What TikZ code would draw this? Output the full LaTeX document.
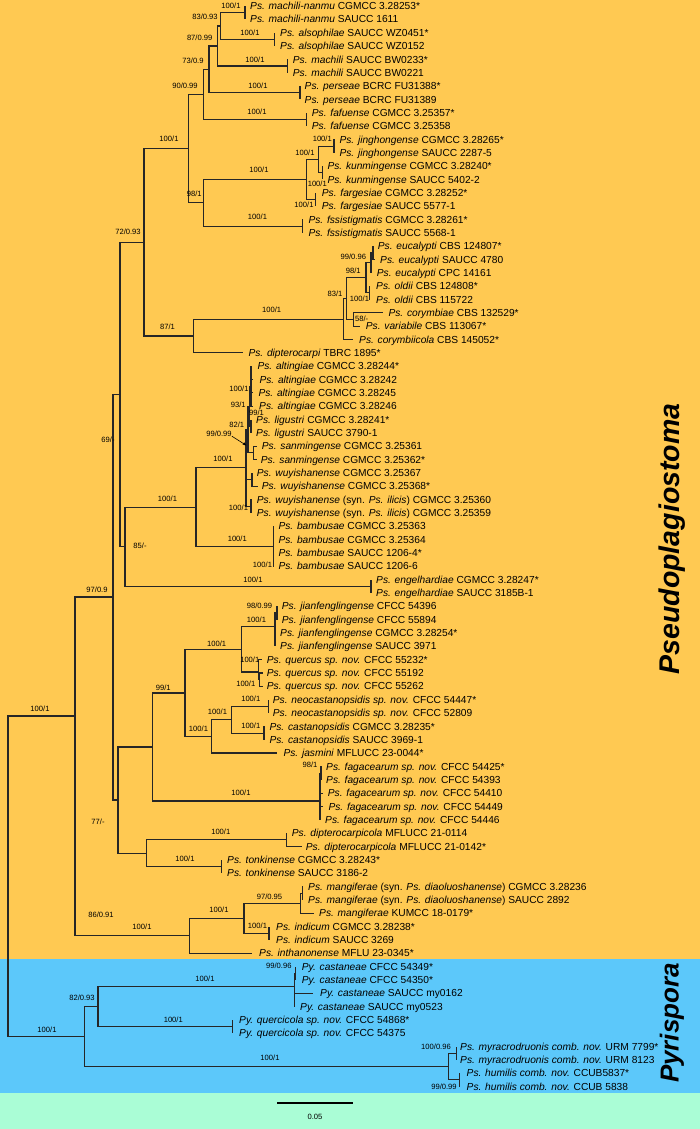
\documentclass[tikz,border=0pt]{standalone}
\usepackage{fontspec}
\setmainfont{Liberation Sans}
\usetikzlibrary{arrows.meta}
\definecolor{orangebg}{RGB}{255,201,82}
\definecolor{bluebg}{RGB}{92,200,250}
\definecolor{greenbg}{RGB}{170,253,214}
\newcommand\Tp[5]{\coordinate (#1) at (#2,#3); \node[tiplab] (#1l) at (#4,#3) {#5};}
\newcommand\Nd[3]{\coordinate (#1) at (#2,#3);}
\newcommand\Ed[2]{\draw[br] (#1) |- (#2);}
\newcommand\Sl[4]{\node[supl] (#1) at (#2,#3) {#4};}
\begin{document}
\begin{tikzpicture}[x=1pt,y=-1pt,
  br/.style={line width=1.1pt,draw=black!85},
  tiplab/.style={anchor=west,inner sep=0pt,text height=7.3pt,text depth=0pt,font=\fontsize{10.2pt}{12pt}\selectfont},
  supl/.style={anchor=center,inner sep=0pt,text height=5.4pt,text depth=0pt,font=\fontsize{7.6pt}{9pt}\selectfont},
  clade/.style={rotate=90,inner sep=0pt,font=\bfseries\itshape}]
\useasboundingbox (0,0) rectangle (700,1129);
\fill[orangebg] (0,0) rectangle (700,959);
\fill[bluebg] (0,959) rectangle (700,1093);
\fill[greenbg] (0,1093) rectangle (700,1129);
% ---------------- tips
\Tp{t1}{245}{6.0}{250}{\textit{Ps. machili-nanmu} CGMCC 3.28253*}
\Tp{t2}{245}{19.3}{250}{\textit{Ps. machili-nanmu} SAUCC 1611}
\Tp{t3}{274.3}{32.7}{280}{\textit{Ps. alsophilae} SAUCC WZ0451*}
\Tp{t4}{274.3}{46.0}{280}{\textit{Ps. alsophilae} SAUCC WZ0152}
\Tp{t5}{287.7}{59.4}{292.7}{\textit{Ps. machili} SAUCC BW0233*}
\Tp{t6}{287.7}{72.7}{292.7}{\textit{Ps. machili} SAUCC BW0221}
\Tp{t7}{300}{86.0}{304.5}{\textit{Ps. perseae} BCRC FU31388*}
\Tp{t8}{300}{99.4}{304.5}{\textit{Ps. perseae} BCRC FU31389}
\Tp{t9}{306.7}{112.7}{311.7}{\textit{Ps. fafuense} CGMCC 3.25357*}
\Tp{t10}{306.7}{126.1}{311.7}{\textit{Ps. fafuense} CGMCC 3.25358}
\Tp{t11}{334}{139.4}{339.3}{\textit{Ps. jinghongense} CGMCC 3.28265*}
\Tp{t12}{334}{152.7}{339.3}{\textit{Ps. jinghongense} SAUCC 2287-5}
\Tp{t13}{322.7}{166.1}{327.3}{\textit{Ps. kunmingense} CGMCC 3.28240*}
\Tp{t14}{322.7}{179.4}{327.3}{\textit{Ps. kunmingense} SAUCC 5402-2}
\Tp{t15}{315.7}{192.8}{321.7}{\textit{Ps. fargesiae} CGMCC 3.28252*}
\Tp{t16}{315.7}{206.1}{321.7}{\textit{Ps. fargesiae} SAUCC 5577-1}
\Tp{t17}{302.3}{219.4}{308.3}{\textit{Ps. fssistigmatis} CGMCC 3.28261*}
\Tp{t18}{302.3}{232.8}{308.3}{\textit{Ps. fssistigmatis} SAUCC 5568-1}
\Tp{t19}{373}{246.1}{377.7}{\textit{Ps. eucalypti} CBS 124807*}
\Tp{t20}{375}{259.5}{380}{\textit{Ps. eucalypti} SAUCC 4780}
\Tp{t21}{371}{272.8}{376.7}{\textit{Ps. eucalypti} CPC 14161}
\Tp{t22}{369.3}{286.1}{376}{\textit{Ps. oldii} CBS 124808*}
\Tp{t23}{369.3}{299.5}{376}{\textit{Ps. oldii} CBS 115722}
\Tp{t24}{383.3}{312.8}{388.3}{\textit{Ps. corymbiae} CBS 132529*}
\Tp{t25}{360}{326.2}{365.7}{\textit{Ps. variabile} CBS 113067*}
\Tp{t26}{353.3}{339.5}{359}{\textit{Ps. corymbiicola} CBS 145052*}
\Tp{t27}{242.7}{352.8}{248.3}{\textit{Ps. dipterocarpi} TBRC 1895*}
\Tp{t28}{251.5}{366.2}{257.3}{\textit{Ps. altingiae} CGMCC 3.28244*}
\Tp{t29}{253}{379.5}{259.3}{\textit{Ps. altingiae} CGMCC 3.28242}
\Tp{t30}{252.5}{392.9}{258.3}{\textit{Ps. altingiae} CGMCC 3.28245}
\Tp{t31}{253}{406.2}{259}{\textit{Ps. altingiae} CGMCC 3.28246}
\Tp{t32}{251}{419.5}{256}{\textit{Ps. ligustri} CGMCC 3.28241*}
\Tp{t33}{251}{432.9}{256}{\textit{Ps. ligustri} SAUCC 3790-1}
\Tp{t34}{256.5}{446.2}{261.7}{\textit{Ps. sanmingense} CGMCC 3.25361}
\Tp{t35}{256.5}{459.6}{260.7}{\textit{Ps. sanmingense} CGMCC 3.25362*}
\Tp{t36}{252}{472.9}{256.7}{\textit{Ps. wuyishanense} CGMCC 3.25367}
\Tp{t37}{257.5}{486.2}{261.7}{\textit{Ps. wuyishanense} CGMCC 3.25368*}
\Tp{t38}{251.5}{499.6}{256.7}{\textit{Ps. wuyishanense} (syn. \textit{Ps. ilicis}) CGMCC 3.25360}
\Tp{t39}{251.5}{512.9}{256.7}{\textit{Ps. wuyishanense} (syn. \textit{Ps. ilicis}) CGMCC 3.25359}
\Tp{t40}{273.3}{526.3}{278.3}{\textit{Ps. bambusae} CGMCC 3.25363}
\Tp{t41}{273.3}{539.6}{278.3}{\textit{Ps. bambusae} CGMCC 3.25364}
\Tp{t42}{274}{552.9}{278.3}{\textit{Ps. bambusae} SAUCC 1206-4*}
\Tp{t43}{274}{566.3}{278.3}{\textit{Ps. bambusae} SAUCC 1206-6}
\Tp{t44}{371}{579.6}{376}{\textit{Ps. engelhardiae} CGMCC 3.28247*}
\Tp{t45}{371}{593.0}{376}{\textit{Ps. engelhardiae} SAUCC 3185B-1}
\Tp{t46}{277}{606.3}{281.7}{\textit{Ps. jianfenglingense} CFCC 54396}
\Tp{t47}{277}{619.6}{281.7}{\textit{Ps. jianfenglingense} CFCC 55894}
\Tp{t48}{275}{633.0}{280}{\textit{Ps. jianfenglingense} CGMCC 3.28254*}
\Tp{t49}{275}{646.3}{280}{\textit{Ps. jianfenglingense} SAUCC 3971}
\Tp{t50}{262}{659.7}{266.7}{\textit{Ps. quercus sp. nov.} CFCC 55232*}
\Tp{t51}{262.7}{673.0}{266.7}{\textit{Ps. quercus sp. nov.} CFCC 55192}
\Tp{t52}{262.7}{686.3}{266.7}{\textit{Ps. quercus sp. nov.} CFCC 55262}
\Tp{t53}{268.3}{699.7}{272.7}{\textit{Ps. neocastanopsidis sp. nov.} CFCC 54447*}
\Tp{t54}{268.3}{713.0}{272.7}{\textit{Ps. neocastanopsidis sp. nov.} CFCC 52809}
\Tp{t55}{264}{726.4}{269.3}{\textit{Ps. castanopsidis} CGMCC 3.28235*}
\Tp{t56}{264}{739.7}{269.3}{\textit{Ps. castanopsidis} SAUCC 3969-1}
\Tp{t57}{276.7}{753.0}{283.3}{\textit{Ps. jasmini} MFLUCC 23-0044*}
\Tp{t58}{321}{766.4}{326}{\textit{Ps. fagacearum sp. nov.} CFCC 54425*}
\Tp{t59}{321}{779.7}{326}{\textit{Ps. fagacearum sp. nov.} CFCC 54393}
\Tp{t60}{322.5}{793.1}{327.7}{\textit{Ps. fagacearum sp. nov.} CFCC 54410}
\Tp{t61}{322.5}{806.4}{328.3}{\textit{Ps. fagacearum sp. nov.} CFCC 54449}
\Tp{t62}{320}{819.7}{325}{\textit{Ps. fagacearum sp. nov.} CFCC 54446}
\Tp{t63}{286.7}{833.1}{291.7}{\textit{Ps. dipterocarpicola} MFLUCC 21-0114}
\Tp{t64}{301.5}{846.4}{305.7}{\textit{Ps. dipterocarpicola} MFLUCC 21-0142*}
\Tp{t65}{221.7}{859.8}{227}{\textit{Ps. tonkinense} CGMCC 3.28243*}
\Tp{t66}{221.7}{873.1}{227}{\textit{Ps. tonkinense} SAUCC 3186-2}
\Tp{t67}{302.3}{886.4}{308}{\textit{Ps. mangiferae} (syn. \textit{Ps. diaoluoshanense}) CGMCC 3.28236}
\Tp{t68}{302.3}{899.8}{308}{\textit{Ps. mangiferae} (syn. \textit{Ps. diaoluoshanense}) SAUCC 2892}
\Tp{t69}{314.3}{913.1}{319}{\textit{Ps. mangiferae} KUMCC 18-0179*}
\Tp{t70}{269}{926.5}{276}{\textit{Ps. indicum} CGMCC 3.28238*}
\Tp{t71}{269}{939.8}{276}{\textit{Ps. indicum} SAUCC 3269}
\Tp{t72}{251.7}{953.1}{259}{\textit{Ps. inthanonense} MFLU 23-0345*}
\Tp{t73}{295.5}{966.5}{301.7}{\textit{Py. castaneae} CFCC 54349*}
\Tp{t74}{295.5}{979.8}{301.7}{\textit{Py. castaneae} CFCC 54350*}
\Tp{t75}{313.3}{993.2}{320}{\textit{Py. castaneae} SAUCC my0162}
\Tp{t76}{294.3}{1006.5}{300}{\textit{Py. castaneae} SAUCC my0523}
\Tp{t77}{232.3}{1019.8}{239}{\textit{Py. quercicola sp. nov.} CFCC 54868*}
\Tp{t78}{232.3}{1033.2}{239}{\textit{Py. quercicola sp. nov.} CFCC 54375}
\Tp{t79}{456.3}{1046.5}{460}{\textit{Ps. myracrodruonis comb. nov.} URM 7799*}
\Tp{t80}{456.3}{1059.9}{460}{\textit{Ps. myracrodruonis comb. nov.} URM 8123}
\Tp{t81}{459.8}{1073.2}{466.5}{\textit{Ps. humilis comb. nov.} CCUB5837*}
\Tp{t82}{459.8}{1086.5}{466.5}{\textit{Ps. humilis comb. nov.} CCUB 5838}
% ---------------- internal nodes
\Nd{nMN}{245}{12.65}\Nd{nAls}{274.3}{39.35}\Nd{nMach}{287.7}{66.05}
\Nd{nPer}{300}{92.7}\Nd{nFaf}{306.7}{119.4}\Nd{nJing}{334}{146.05}
\Nd{nKun}{322.7}{172.75}\Nd{nFarg}{315.7}{199.45}\Nd{nFss}{302.3}{226.1}
\Nd{n83}{220.7}{26}\Nd{n87}{217.3}{46}\Nd{n73}{209}{69.4}\Nd{n90}{203.3}{94.4}
\Nd{nJK}{318.3}{159.4}\Nd{nB100}{306.7}{179.4}\Nd{n98}{203.3}{202.75}\Nd{nA100}{188.3}{148.6}
\Nd{nE99}{373}{252.8}\Nd{nE}{371}{262.8}\Nd{nOld}{369.3}{292.8}\Nd{n98b}{366}{277.8}
\Nd{n58}{353.3}{319.5}\Nd{n83b}{346.7}{298.65}\Nd{nC100}{343.3}{319.1}
\Nd{n87b}{193.3}{335.95}\Nd{n72}{144}{242.3}
\Nd{nAlt}{251}{386.2}\Nd{nLig}{251}{426.2}\Nd{n93}{249.5}{406.2}\Nd{nSan}{253.3}{452.9}
\Nd{n82a}{248}{429.5}\Nd{nWu1}{252}{479.6}\Nd{nWu2}{251}{506.25}\Nd{n99a}{246}{467.9}
\Nd{nBam}{273.3}{546.3}\Nd{n196}{196}{507.1}\Nd{nEng}{371}{586.3}\Nd{n85}{125}{546.7}
\Nd{nJ98}{277}{612.95}\Nd{nJian}{275}{626.7}\Nd{nQs}{259.3}{679.65}\Nd{nQuer}{258.3}{672}
\Nd{nJQ}{241.7}{649.5}\Nd{nNeo}{268.3}{706.35}\Nd{nCas}{264}{733.05}\Nd{nNC}{231.7}{719.7}
\Nd{nNCJ}{211.7}{736.35}\Nd{n99j}{185}{693}\Nd{nF98}{321}{773.05}\Nd{nFag}{320}{801}
\Nd{n77}{152.7}{747}\Nd{nDip}{286.7}{839.75}\Nd{nTonk}{221.7}{866.45}\Nd{n86}{146.7}{853.1}
\Nd{nSyn}{302.3}{893.1}\Nd{nMg}{300.7}{903.1}\Nd{nInd}{269}{933.15}\Nd{nMI}{244}{918.1}
\Nd{nMan}{189.3}{935.6}\Nd{nQ}{118}{800}\Nd{n69}{120}{394.5}\Nd{n97}{113}{597}\Nd{nPs}{75}{716}
\Nd{nC99}{295.5}{973.15}\Nd{nCst}{294.3}{986.5}\Nd{nQc}{232.3}{1026.5}\Nd{n82}{98}{1006.5}
\Nd{nMyr}{456.3}{1053.2}\Nd{nHum}{459.8}{1079.85}\Nd{nMH}{448.7}{1066.5}\Nd{nPy}{84.8}{1036.5}
\Nd{root}{8}{876}
% ---------------- edges
\Ed{nMN}{t1}\Ed{nMN}{t2}\Ed{nAls}{t3}\Ed{nAls}{t4}\Ed{nMach}{t5}\Ed{nMach}{t6}
\Ed{nPer}{t7}\Ed{nPer}{t8}\Ed{nFaf}{t9}\Ed{nFaf}{t10}\Ed{nJing}{t11}\Ed{nJing}{t12}
\Ed{nKun}{t13}\Ed{nKun}{t14}\Ed{nFarg}{t15}\Ed{nFarg}{t16}\Ed{nFss}{t17}\Ed{nFss}{t18}
\Ed{n83}{nMN}\Ed{n83}{nAls}\Ed{n87}{n83}\Ed{n87}{nMach}\Ed{n73}{n87}\Ed{n73}{nPer}
\Ed{n90}{n73}\Ed{n90}{nFaf}\Ed{nJK}{nJing}\Ed{nJK}{nKun}\Ed{nB100}{nJK}\Ed{nB100}{nFarg}
\Ed{n98}{nB100}\Ed{n98}{nFss}\Ed{nA100}{n90}\Ed{nA100}{n98}
\Ed{nE99}{t19}\Ed{nE99}{t20}\Ed{nE}{nE99}\Ed{nE}{t21}\Ed{nOld}{t22}\Ed{nOld}{t23}
\Ed{n98b}{nE}\Ed{n98b}{nOld}\Ed{n58}{t24}\Ed{n58}{t25}\Ed{n83b}{n98b}\Ed{n83b}{n58}
\Ed{nC100}{n83b}\Ed{nC100}{t26}\Ed{n87b}{nC100}\Ed{n87b}{t27}\Ed{n72}{nA100}\Ed{n72}{n87b}
\Ed{nAlt}{t28}\Ed{nAlt}{t29}\Ed{nAlt}{t30}\Ed{nAlt}{t31}\Ed{nLig}{t32}\Ed{nLig}{t33}
\Ed{n93}{nAlt}\Ed{n93}{nLig}\Ed{nSan}{t34}\Ed{nSan}{t35}\Ed{n82a}{n93}\Ed{n82a}{nSan}
\Ed{nWu1}{t36}\Ed{nWu1}{t37}\Ed{nWu2}{t38}\Ed{nWu2}{t39}
\Ed{n99a}{n82a}\Ed{n99a}{nWu1}\Ed{n99a}{nWu2}
\Ed{nBam}{t40}\Ed{nBam}{t41}\Ed{nBam}{t42}\Ed{nBam}{t43}
\Ed{n196}{n99a}\Ed{n196}{nBam}\Ed{nEng}{t44}\Ed{nEng}{t45}\Ed{n85}{n196}\Ed{n85}{nEng}
\Ed{nJ98}{t46}\Ed{nJ98}{t47}\Ed{nJian}{nJ98}\Ed{nJian}{t48}\Ed{nJian}{t49}
\Ed{nQs}{t51}\Ed{nQs}{t52}\Ed{nQuer}{t50}\Ed{nQuer}{nQs}\Ed{nJQ}{nJian}\Ed{nJQ}{nQuer}
\Ed{nNeo}{t53}\Ed{nNeo}{t54}\Ed{nCas}{t55}\Ed{nCas}{t56}\Ed{nNC}{nNeo}\Ed{nNC}{nCas}
\Ed{nNCJ}{nNC}\Ed{nNCJ}{t57}\Ed{n99j}{nJQ}\Ed{n99j}{nNCJ}
\Ed{nF98}{t58}\Ed{nF98}{t59}\Ed{nFag}{nF98}\Ed{nFag}{t60}\Ed{nFag}{t61}\Ed{nFag}{t62}
\Ed{n77}{n99j}\Ed{n77}{nFag}\Ed{nDip}{t63}\Ed{nDip}{t64}\Ed{nTonk}{t65}\Ed{nTonk}{t66}
\Ed{n86}{nDip}\Ed{n86}{nTonk}\Ed{nSyn}{t67}\Ed{nSyn}{t68}\Ed{nMg}{nSyn}\Ed{nMg}{t69}
\Ed{nInd}{t70}\Ed{nInd}{t71}\Ed{nMI}{nMg}\Ed{nMI}{nInd}\Ed{nMan}{nMI}\Ed{nMan}{t72}
\Ed{nQ}{n77}\Ed{nQ}{n86}\Ed{n69}{n72}\Ed{n69}{n85}\Ed{n97}{n69}\Ed{n97}{nQ}
\Ed{nPs}{n97}\Ed{nPs}{nMan}
\Ed{nC99}{t73}\Ed{nC99}{t74}\Ed{nCst}{nC99}\Ed{nCst}{t75}\Ed{nCst}{t76}
\Ed{nQc}{t77}\Ed{nQc}{t78}\Ed{n82}{nCst}\Ed{n82}{nQc}
\Ed{nMyr}{t79}\Ed{nMyr}{t80}\Ed{nHum}{t81}\Ed{nHum}{t82}\Ed{nMH}{nMyr}\Ed{nMH}{nHum}
\Ed{nPy}{n82}\Ed{nPy}{nMH}\Ed{root}{nPs}\Ed{root}{nPy}
% ---------------- support values
\Sl{s1}{231}{6}{100/1}
\Sl{s2}{205}{17.3}{83/0.93}
\Sl{s3}{250}{33.3}{100/1}
\Sl{s4}{199.7}{38.3}{87/0.99}
\Sl{s5}{255}{60}{100/1}
\Sl{s6}{193}{61}{73/0.9}
\Sl{s7}{258}{86}{100/1}
\Sl{s8}{185}{86}{90/0.99}
\Sl{s9}{257}{111.7}{100/1}
\Sl{s10}{169}{138.3}{100/1}
\Sl{s11}{322.3}{138.3}{100/1}
\Sl{s12}{305}{152.3}{100/1}
\Sl{s13}{259}{170}{100/1}
\Sl{s14}{317.3}{183.3}{100/1}
\Sl{s15}{194.3}{194}{98/1}
\Sl{s16}{304}{204.3}{100/1}
\Sl{s17}{257.5}{216.7}{100/1}
\Sl{s18}{128}{232}{72/0.93}
\Sl{s19}{353.3}{256.7}{99/0.96}
\Sl{s20}{353.3}{271}{98/1}
\Sl{s21}{335}{293.3}{83/1}
\Sl{s22}{359.5}{299}{100/1}
\Sl{s23}{271.7}{310}{100/1}
\Sl{s24}{361.7}{318.3}{58/-}
\Sl{s25}{167.5}{326.7}{87/1}
\Sl{s26}{239}{388.3}{100/1}
\Sl{s27}{238.3}{405}{93/1}
\Sl{s28}{256.5}{412.6}{99/1}
\Sl{s29}{236.7}{425}{82/1}
\Sl{s30}{219}{433.3}{99/0.99}
\Sl{s31}{108}{440}{69/-}
\Sl{s32}{223}{459}{100/1}
\Sl{s33}{167.5}{499}{100/1}
\Sl{s34}{238.5}{507.7}{100/1}
\Sl{s35}{237.3}{538.3}{100/1}
\Sl{s36}{140}{545.7}{85/-}
\Sl{s37}{262.5}{564.3}{100/1}
\Sl{s38}{253}{579.3}{100/1}
\Sl{s39}{97}{590}{97/0.9}
\Sl{s40}{259.5}{606}{98/0.99}
\Sl{s41}{256.5}{620}{100/1}
\Sl{s42}{216.7}{643.3}{100/1}
\Sl{s43}{249.8}{660}{100/1}
\Sl{s44}{245.8}{683.3}{100/1}
\Sl{s45}{163.3}{687.7}{99/1}
\Sl{s46}{250.8}{698.3}{100/1}
\Sl{s47}{40}{709}{100/1}
\Sl{s48}{217.5}{711.7}{100/1}
\Sl{s49}{250.8}{726}{100/1}
\Sl{s50}{198.5}{728.3}{100/1}
\Sl{s51}{310}{765}{98/1}
\Sl{s52}{241}{793}{100/1}
\Sl{s53}{98}{822}{77/-}
\Sl{s54}{220.8}{831.7}{100/1}
\Sl{s55}{185}{859}{100/1}
\Sl{s56}{101}{915}{86/0.91}
\Sl{s57}{269.5}{896.7}{97/0.95}
\Sl{s58}{219}{910}{100/1}
\Sl{s59}{142}{926.7}{100/1}
\Sl{s60}{257.5}{925.7}{100/1}
\Sl{s61}{278.8}{966}{99/0.96}
\Sl{s62}{205}{978.3}{100/1}
\Sl{s63}{82}{998}{82/0.93}
\Sl{s64}{173.3}{1020}{100/1}
\Sl{s65}{47}{1030}{100/1}
\Sl{s66}{436}{1046.7}{100/0.96}
\Sl{s67}{270}{1058}{100/1}
\Sl{s68}{444}{1086.7}{99/0.99}
\coordinate (arrTip) at (246.5,445.5);
\draw[line width=0.6pt,-{Stealth[length=4pt,width=3pt]}] (s30.south east) -- (arrTip);
% ---------------- scale bar
\coordinate (sbL) at (277,1103);
\coordinate (sbR) at (353,1103);
\draw[line width=1.1pt] (sbL) -- (sbR);
\node[supl] (sbT) at (315,1117) {0.05};
% ---------------- clade names
\node[clade,font=\fontsize{28.5pt}{32pt}\selectfont\bfseries\itshape] (cPs) at (672,539) {Pseudoplagiostoma};
\node[clade,font=\fontsize{26pt}{30pt}\selectfont\bfseries\itshape] (cPy) at (672,1023) {Pyrispora};
\end{tikzpicture}
\end{document}
